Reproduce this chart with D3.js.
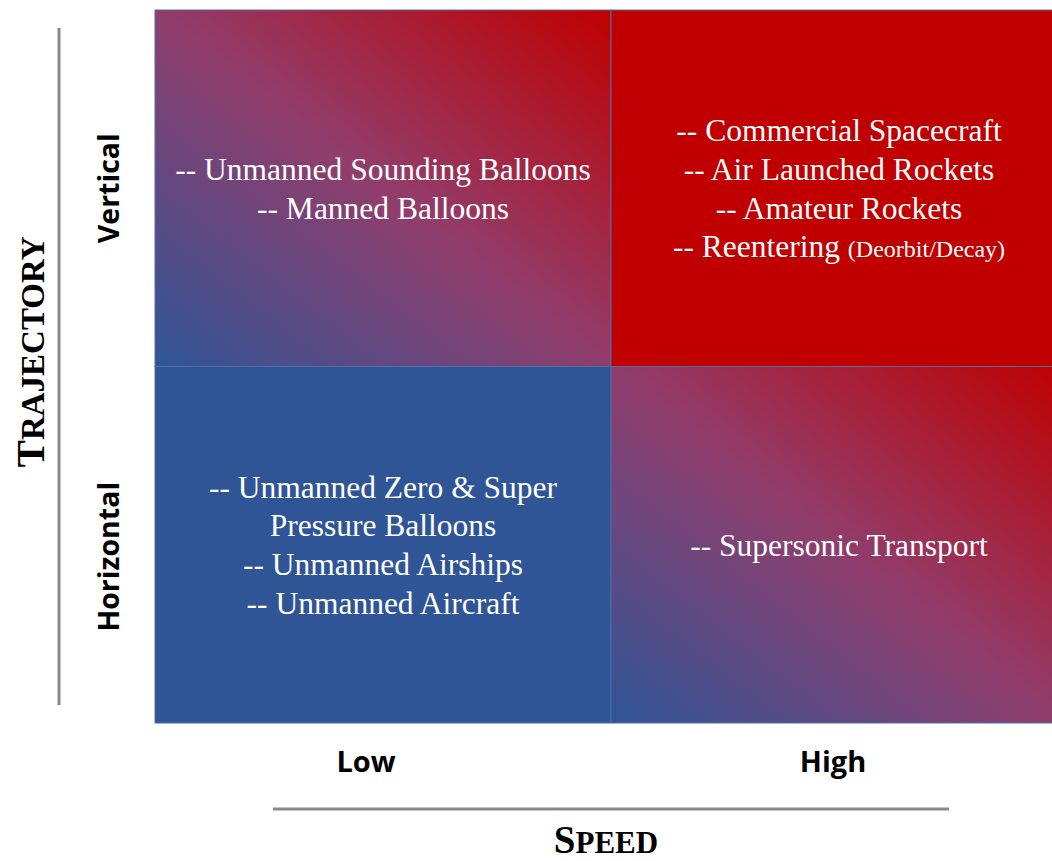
<!DOCTYPE html>
<html><head><meta charset="utf-8">
<script src="https://cdn.jsdelivr.net/npm/d3@7"></script>
<style>html,body{margin:0;padding:0;background:#fff;overflow:hidden}</style>
</head><body>
<svg id="chart" width="1052" height="861"></svg>
<script>
const speedCategories = ["Low", "High"];
const trajectoryCategories = ["Vertical", "Horizontal"];
const cellFills = ["gradient", "solidRed", "solidBlue", "gradient"];
const cellItems = [
  {speed: "Low", trajectory: "Vertical", lines: [["-- Unmanned Sounding Balloons"], ["-- Manned Balloons"]]},
  {speed: "High", trajectory: "Vertical", lines: [["-- Commercial Spacecraft"], ["-- Air Launched Rockets"], ["-- Amateur Rockets"], ["-- Reentering ", "(Deorbit/Decay)"]]},
  {speed: "Low", trajectory: "Horizontal", lines: [["-- Unmanned Zero & Super"], ["Pressure Balloons"], ["-- Unmanned Airships"], ["-- Unmanned Aircraft"]]},
  {speed: "High", trajectory: "Horizontal", lines: [["-- Supersonic Transport"]]}
];
const xTitle = ["S", "PEED"];
const yTitle = ["T", "RAJECTORY"];

const svg = d3.select("#chart");
const x = d3.scaleBand().domain(speedCategories).range([155, 1067]).padding(0);
const y = d3.scaleBand().domain(trajectoryCategories).range([10, 723]).padding(0);

const defs = svg.append("defs");
const g = defs.append("linearGradient").attr("id", "diag")
  .attr("x1", "0").attr("y1", "1").attr("x2", "1").attr("y2", "0");
g.append("stop").attr("offset", "0").attr("stop-color", "#2f5597");
g.append("stop").attr("offset", "0.5").attr("stop-color", "#913d6c");
g.append("stop").attr("offset", "1").attr("stop-color", "#c00000");

const fillFor = f => f === "gradient" ? "url(#diag)" : (f === "solidRed" ? "#c00000" : "#2f5597");

svg.selectAll("rect.cell").data(cellItems).join("rect")
  .attr("class", "cell")
  .attr("x", d => x(d.speed)).attr("y", d => y(d.trajectory))
  .attr("width", x.bandwidth()).attr("height", y.bandwidth())
  .attr("fill", (d, i) => fillFor(cellFills[i]))
  .attr("stroke", "#4f6fa6").attr("stroke-width", 1);

const lineH = 38.7;
const cellText = svg.selectAll("text.cell").data(cellItems).join("text")
  .attr("class", "cell")
  .attr("text-anchor", "middle")
  .attr("fill", "#fff")
  .attr("font-family", "'Liberation Serif', 'Times New Roman', serif")
  .attr("font-size", 31.5);
cellText.each(function(d) {
  const t = d3.select(this);
  const cx = x(d.speed) + x.bandwidth() / 2;
  const cy = y(d.trajectory) + y.bandwidth() / 2;
  const n = d.lines.length;
  d.lines.forEach((parts, i) => {
    const yy = cy + (i - (n - 1) / 2) * lineH + 11;
    t.append("tspan").attr("x", cx).attr("y", yy).text(parts[0]);
    if (parts[1]) t.append("tspan").attr("font-size", 24).text(parts[1]);
  });
});

// Row labels
svg.selectAll("text.row").data(trajectoryCategories).join("text")
  .attr("class", "row")
  .attr("transform", (d, i) => `translate(119,${y(d) + y.bandwidth() / 2 + (i === 1 ? 12 : 0)}) rotate(-90)`)
  .attr("text-anchor", "middle")
  .attr("font-family", "'Open Sans', 'Liberation Sans', sans-serif")
  .attr("font-weight", "bold").attr("font-size", 28.5).attr("fill", "#000")
  .text(d => d);

// Column labels
svg.selectAll("text.col").data(speedCategories).join("text")
  .attr("class", "col")
  .attr("x", d => x(d) + x.bandwidth() / 2 - (d === "High" ? 6 : 17))
  .attr("y", 772)
  .attr("text-anchor", "middle")
  .attr("font-family", "'Open Sans', 'Liberation Sans', sans-serif")
  .attr("font-weight", "bold").attr("font-size", 29).attr("fill", "#000")
  .text(d => d);

// Axis lines
svg.append("line").attr("x1", 273).attr("x2", 949).attr("y1", 809).attr("y2", 809)
  .attr("stroke", "#888").attr("stroke-width", 3);
svg.append("line").attr("x1", 59).attr("x2", 59).attr("y1", 28).attr("y2", 705)
  .attr("stroke", "#888").attr("stroke-width", 3);

// Titles (small caps)
const xt = svg.append("text").attr("x", 606).attr("y", 853).attr("text-anchor", "middle")
  .attr("font-family", "'Liberation Serif', 'Times New Roman', serif").attr("font-weight", "bold").attr("fill", "#000");
xt.append("tspan").attr("font-size", 39).text(xTitle[0]);
xt.append("tspan").attr("font-size", 31).text(xTitle[1]);

const yt = svg.append("text").attr("transform", "translate(44,352) rotate(-90)").attr("text-anchor", "middle")
  .attr("font-family", "'Liberation Serif', 'Times New Roman', serif").attr("font-weight", "bold").attr("fill", "#000");
yt.append("tspan").attr("font-size", 41).text(yTitle[0]);
yt.append("tspan").attr("font-size", 33).text(yTitle[1]);
</script>
</body></html>
